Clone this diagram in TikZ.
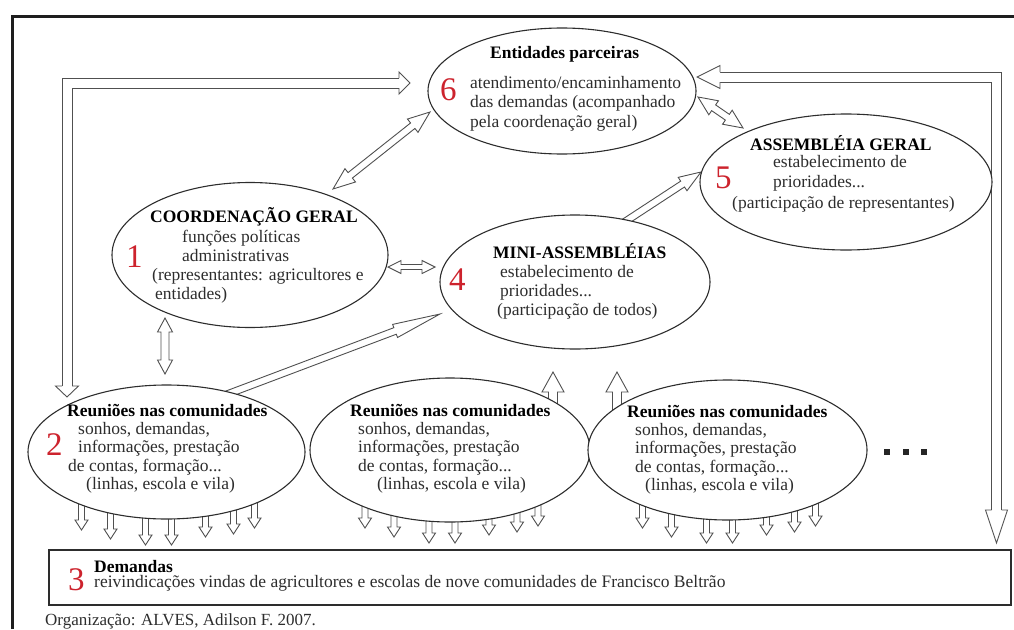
\documentclass[tikz,border=0pt]{standalone}
\usepackage{fontspec}
\setmainfont{Liberation Serif}
\usetikzlibrary{calc,shapes.geometric,backgrounds}
\definecolor{numred}{RGB}{205,35,45}
\definecolor{txtg}{RGB}{45,45,45}
\definecolor{ellc}{RGB}{45,45,45}
\definecolor{arrc}{RGB}{80,80,80}
\definecolor{framec}{RGB}{30,30,30}
% double-headed hollow arrow: tip1, tip2, shaft half width, head half width, head length
\newcommand\dblarrow[5]{%
 \filldraw[harrow] let \p1=(#1), \p2=(#2), \n1={atan2(\y2-\y1,\x2-\x1)}, \n2={veclen(\x2-\x1,\y2-\y1)-#5pt} in
 (\p1) -- ($(\p1)+(\n1:#5pt)+(\n1+90:#4pt)$) -- ($(\p1)+(\n1:#5pt)+(\n1+90:#3pt)$)
 -- ($(\p1)+(\n1:\n2)+(\n1+90:#3pt)$) -- ($(\p1)+(\n1:\n2)+(\n1+90:#4pt)$) -- (\p2)
 -- ($(\p1)+(\n1:\n2)+(\n1-90:#4pt)$) -- ($(\p1)+(\n1:\n2)+(\n1-90:#3pt)$)
 -- ($(\p1)+(\n1:#5pt)+(\n1-90:#3pt)$) -- ($(\p1)+(\n1:#5pt)+(\n1-90:#4pt)$) -- cycle;}
% single-headed hollow arrow: tail, tip, shaft half width, head half width, head length
\newcommand\sglarrow[5]{%
 \filldraw[harrow] let \p1=(#1), \p2=(#2), \n1={atan2(\y2-\y1,\x2-\x1)}, \n2={veclen(\x2-\x1,\y2-\y1)-#5pt} in
 ($(\p1)+(\n1+90:#3pt)$) -- ($(\p1)+(\n1:\n2)+(\n1+90:#3pt)$) -- ($(\p1)+(\n1:\n2)+(\n1+90:#4pt)$) -- (\p2)
 -- ($(\p1)+(\n1:\n2)+(\n1-90:#4pt)$) -- ($(\p1)+(\n1:\n2)+(\n1-90:#3pt)$) -- ($(\p1)+(\n1-90:#3pt)$) -- cycle;}
% open head: tip, canvas angle, shaft half width, head half width, head length
\newcommand\ahead[5]{%
 \filldraw[harrow] ($(#1)+(#2+180:#5pt)+(#2+90:#3pt)$) -- ($(#1)+(#2+180:#5pt)+(#2+90:#4pt)$) -- (#1)
 -- ($(#1)+(#2+180:#5pt)+(#2-90:#4pt)$) -- ($(#1)+(#2+180:#5pt)+(#2-90:#3pt)$);}
\begin{document}
\begin{tikzpicture}[x=1pt,y=-1pt,
 ell/.style={ellipse, draw=ellc, line width=1.1pt, fill=white, inner sep=0pt},
 harrow/.style={draw=arrc, fill=white, line width=0.9pt, line join=miter},
 shaft/.style={draw=arrc, line width=0.9pt, line join=miter},
 txt/.style={anchor=base west, inner sep=0pt, text=txtg, font=\fontsize{17.5}{19}\selectfont},
 hd/.style={anchor=base west, inner sep=0pt, text=black, font=\fontsize{17.5}{19}\selectfont\bfseries},
 num/.style={anchor=base west, inner sep=0pt, text=numred, font=\fontsize{33}{33}\selectfont},
 sq/.style={rectangle, fill=black!85, minimum size=6pt, inner sep=0pt}]
\useasboundingbox (0,0) rectangle (1014,629);
\draw[framec, line width=3pt] (12,629) -- (12,16) -- (1014,16);

% ellipses
\node[ell, minimum width=268pt, minimum height=126pt] (e6) at (562,91) {};
\node[ell, minimum width=292pt, minimum height=136pt] (e5) at (846,182) {};
\node[ell, minimum width=276pt, minimum height=145pt] (e1) at (250,255) {};
\node[ell, minimum width=270pt, minimum height=134pt] (e4) at (575,282) {};
\node[ell, minimum width=277pt, minimum height=134pt] (e2) at (166.5,452) {};
\node[ell, minimum width=280pt, minimum height=144pt] (em) at (450,450) {};
\node[ell, minimum width=279pt, minimum height=140pt] (er) at (727.5,450) {};
\node[draw=ellc, line width=1.3pt, fill=white, minimum width=962pt, minimum height=55pt, inner sep=0pt] (dem) at (530,577.5) {};

% connectors
\begin{pgfonlayer}{background}
\coordinate (a16a) at (333,189); \coordinate (a16b) at (430,112);
\coordinate (a65a) at (698,97);  \coordinate (a65b) at (743,128);
\coordinate (a45a) at (620,225); \coordinate (a45b) at (701,172);
\coordinate (a14a) at (388,267); \coordinate (a14b) at (435,267);
\coordinate (a12a) at (165,318); \coordinate (a12b) at (165,374);
\coordinate (a24a) at (220,397); \coordinate (a24b) at (440,314);
\coordinate (up1a) at (553,412); \coordinate (up1b) at (553,372);
\coordinate (up2a) at (617,415); \coordinate (up2b) at (617,372);
\coordinate (lelA) at (67,397);  \coordinate (lelB) at (410,83);
\coordinate (relA) at (697,77);  \coordinate (relB) at (996.5,543);

\dblarrow{a16a}{a16b}{3.5}{8.5}{22}
\dblarrow{a65a}{a65b}{3.5}{8.5}{19}
\sglarrow{a45a}{a45b}{3.5}{8}{22}
\dblarrow{a14a}{a14b}{2.5}{6.5}{13}
\dblarrow{a12a}{a12b}{4}{7.5}{14}
\sglarrow{a24a}{a24b}{3.5}{7}{48}
\sglarrow{up1a}{up1b}{4.5}{11}{20}
\sglarrow{up2a}{up2b}{4.5}{11}{20}

% left elbow (communities <-> partner entities)
\draw[shaft] ($(lelA)+(-5,-11)$) |- ($(lelB)+(-11,-5)$);
\draw[shaft] ($(lelA)+(5,-11)$) |- ($(lelB)+(-11,5)$);
\ahead{lelA}{-90}{5}{11.5}{11}
\ahead{lelB}{0}{5}{11}{11}
% right elbow (partner entities <-> demands)
\draw[shaft] ($(relA)+(23,-5)$) -| ($(relB)+(5,-33)$);
\draw[shaft] ($(relA)+(23,5)$) -| ($(relB)+(-5,-33)$);
\ahead{relA}{180}{5}{11.5}{23}
\ahead{relB}{-90}{5}{11}{33}

\foreach \e in {e2,em,er}{
  \foreach \dx/\ty [count=\i] in {-85/78,-56/87,-21/93,5/93,39/85,67/82,88/76}{
    \coordinate (\e-s\i) at ($(\e.center)+(\dx,40)$);
    \coordinate (\e-t\i) at ($(\e.center)+(\dx,\ty)$);
    \sglarrow{\e-s\i}{\e-t\i}{3}{6.5}{10}
  }
}
\end{pgfonlayer}

% texts ellipse 6
\node[hd] (t6h) at (490,58) {Entidades parceiras};
\node[num] (n6) at (440,100) {6};
\node[txt] (t6a) at (470,88) {atendimento/encaminhamento};
\node[txt] (t6b) at (470,107.5) {das demandas (acompanhado};
\node[txt] (t6c) at (470,127) {pela coordenação geral)};
% ellipse 5
\node[hd] (t5h) at (750,150) {ASSEMBLÉIA GERAL};
\node[num] (n5) at (715,188) {5};
\node[txt] (t5a) at (773,167) {estabelecimento de};
\node[txt] (t5b) at (773,187) {prioridades...};
\node[txt] (t5c) at (732,208) {(participação de representantes)};
% ellipse 1
\node[hd] (t1h) at (150,222) {COORDENAÇÃO GERAL};
\node[num] (n1) at (126,267) {1};
\node[txt] (t1a) at (182,242) {funções políticas};
\node[txt] (t1b) at (182,261) {administrativas};
\node[txt] (t1c) at (152,280) {(representantes: agricultores e};
\node[txt] (t1d) at (155,299) {entidades)};
% ellipse 4
\node[hd] (t4h) at (493,258) {MINI-ASSEMBLÉIAS};
\node[num] (n4) at (449,290) {4};
\node[txt] (t4a) at (500,277) {estabelecimento de};
\node[txt] (t4b) at (500,296) {prioridades...};
\node[txt] (t4c) at (497,315) {(participação de todos)};
% ellipse 2
\node[hd] (t2h) at (67,416) {Reuniões nas comunidades};
\node[num] (n2) at (46,455) {2};
\node[txt] (t2a) at (78,434) {sonhos, demandas,};
\node[txt] (t2b) at (78,452) {informações, prestação};
\node[txt] (t2c) at (68,471) {de contas, formação...};
\node[txt] (t2d) at (86,489) {(linhas, escola e vila)};
% middle ellipse
\node[hd] (tmh) at (350,416) {Reuniões nas comunidades};
\node[txt] (tma) at (358,434) {sonhos, demandas,};
\node[txt] (tmb) at (358,452) {informações, prestação};
\node[txt] (tmc) at (358,471) {de contas, formação...};
\node[txt] (tmd) at (377,489) {(linhas, escola e vila)};
% right ellipse
\node[hd] (trh) at (627,417) {Reuniões nas comunidades};
\node[txt] (tra) at (635,435) {sonhos, demandas,};
\node[txt] (trb) at (635,453) {informações, prestação};
\node[txt] (trc) at (635,472) {de contas, formação...};
\node[txt] (trd) at (645,490) {(linhas, escola e vila)};
% dots
\node[sq] (d1) at (887,452) {};
\node[sq] (d2) at (906,452) {};
\node[sq] (d3) at (924,452) {};
% demandas box
\node[num] (n3) at (68,590) {3};
\node[hd] (t3h) at (94,572) {Demandas};
\node[txt] (t3a) at (94,587) {reivindicações vindas de agricultores e escolas de nove comunidades de Francisco Beltrão};
% caption
\node[txt, font=\fontsize{17}{19}\selectfont] (cap) at (45,625) {Organização: ALVES, Adilson F. 2007.};
\end{tikzpicture}
\end{document}
